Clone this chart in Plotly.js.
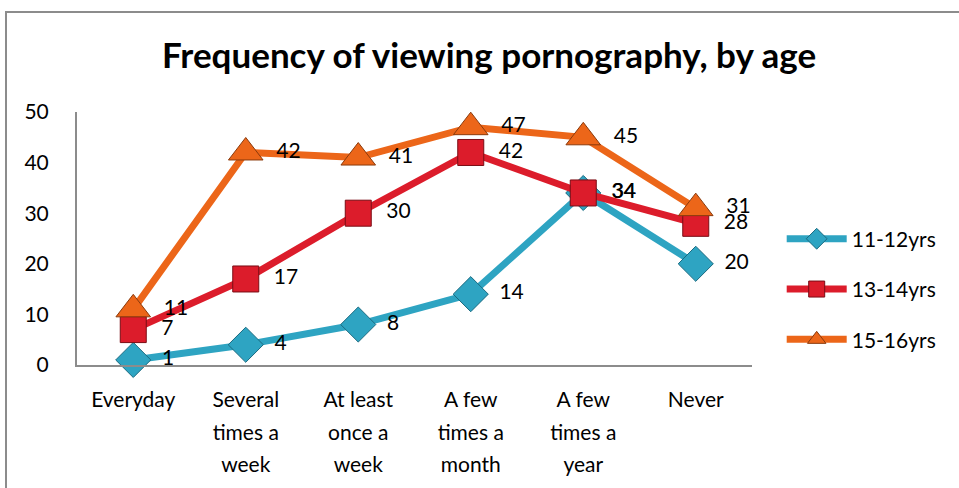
<!DOCTYPE html>
<html>
<head>
<meta charset="utf-8">
<script src="https://cdn.plot.ly/plotly-3.0.1.min.js"></script>
<style>
html,body{margin:0;padding:0;background:#fff;overflow:hidden;}
#frame{position:absolute;left:5px;top:11px;width:1000px;height:1000px;border:2px solid #8c8c8c;box-sizing:border-box;}
#chart{position:absolute;left:0;top:0;width:959px;height:488px;}
</style>
</head>
<body>
<div id="frame"></div>
<div id="chart"></div>
<script>
const categories = ["Everyday", "Several times a week", "At least once a week", "A few times a month", "A few times a year", "Never"];
const tickLines = [["Everyday"], ["Several", "times a", "week"], ["At least", "once a", "week"], ["A few", "times a", "month"], ["A few", "times a", "year"], ["Never"]];
const seriesNames = ["11-12yrs", "13-14yrs", "15-16yrs"];
const age11_12 = [1, 4, 8, 14, 34, 20];
const age13_14 = [7, 17, 30, 42, 34, 28];
const age15_16 = [11, 42, 41, 47, 45, 31];
const yTicks = [0, 10, 20, 30, 40, 50];

const FONT = "Lato, 'Open Sans', sans-serif";
const colors = ["#2ea4c2", "#dc1c2b", "#ec6619"];
const edge = ["#1a6a80", "#7a0c14", "#8a3a0c"];
const symbols = ["diamond", "square", "triangle-up"];
const sizes = [27, 26, 30];
const values = [age11_12, age13_14, age15_16];

const traces = values.map((v, i) => ({
  type: "scatter",
  mode: "lines+markers+text",
  name: seriesNames[i],
  legendgroup: "g" + i,
  x: categories,
  y: v,
  text: v.map(String),
  texttemplate: "\u00a0\u00a0%{text}",
  textposition: "middle right",
  textfont: {family: FONT, size: 21, color: "#000"},
  line: {color: colors[i], width: 7},
  marker: {symbol: symbols[i], size: sizes[i], color: colors[i], line: {color: edge[i], width: 1}},
  cliponaxis: false
}));

const ticktext = tickLines.map(lines => lines.map(s => "<span style='font-size:21px'>" + s + "</span>").join("<br>"));

const layout = {
  width: 959, height: 488,
  margin: {l: 77, r: 207, t: 112, b: 123},
  paper_bgcolor: "rgba(0,0,0,0)",
  plot_bgcolor: "rgba(0,0,0,0)",
  font: {family: FONT, size: 20, color: "#000"},
  title: {
    text: "<b>Frequency of viewing pornography, by age</b>",
    font: {family: FONT, size: 35, color: "#000"},
    x: 0.51, xanchor: "center", y: 0.885, yanchor: "middle"
  },
  showlegend: true,
  legend: {
    x: 1.044, xanchor: "left", y: 0.30, yanchor: "middle",
    font: {family: FONT, size: 21, color: "#000"},
    tracegroupgap: 20, itemwidth: 60
  },
  xaxis: {
    type: "category",
    range: [-0.5, 5.5],
    tickvals: categories,
    ticktext: ticktext,
    showgrid: false, zeroline: false,
    showline: true, linecolor: "#8c8c8c", linewidth: 2,
    ticks: "", ticklabelstandoff: 10,
    tickfont: {family: FONT, size: 25, color: "#000"}
  },
  yaxis: {
    range: [0, 50],
    tickvals: yTicks,
    showgrid: false, zeroline: false,
    showline: true, linecolor: "#8c8c8c", linewidth: 2,
    ticks: "", ticklabelstandoff: 22,
    tickfont: {family: FONT, size: 21, color: "#000"}
  }
};

Plotly.newPlot("chart", traces, layout, {displayModeBar: false, staticPlot: true});
</script>
</body>
</html>
